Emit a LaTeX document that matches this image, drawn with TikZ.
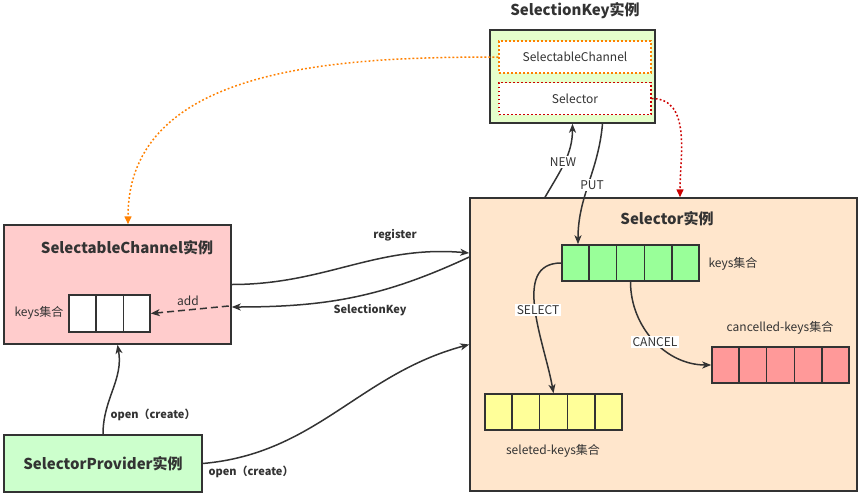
\documentclass[tikz,border=0pt]{standalone}
\usepackage{fontspec}
\setmainfont{Noto Sans CJK SC}
\usetikzlibrary{calc,arrows.meta}

\definecolor{linegray}{HTML}{333333}
\definecolor{textgray}{HTML}{333333}
\definecolor{keyfill}{HTML}{E6FFCC}
\definecolor{selfill}{HTML}{FFE6CC}
\definecolor{chfill}{HTML}{FFCCCC}
\definecolor{provfill}{HTML}{CCFFCC}
\definecolor{greencell}{HTML}{99FF99}
\definecolor{redcell}{HTML}{FF9999}
\definecolor{yellowcell}{HTML}{FFFF99}
\definecolor{orangeline}{HTML}{FF8000}
\definecolor{redline}{HTML}{CC0000}

\begin{document}
\begin{tikzpicture}[x=1pt, y=-1pt, text=textgray, % 1px = 1pt, y軸は下向き
  box/.style={draw=linegray, line width=1.5pt, inner sep=0pt},
  dots/.style={line width=1.5pt, dash pattern=on 1.8pt off 2.2pt},
  inbox/.style={dots, fill=white, inner sep=0pt, minimum width=152pt, minimum height=32pt, font=\fontsize{12}{14}\selectfont},
  arr/.style={box, minimum width=137pt, minimum height=36pt},
  title/.style={font=\bfseries\fontsize{15}{18}\selectfont},
  lab/.style={font=\fontsize{12}{14}\selectfont},
  blab/.style={font=\bfseries\fontsize{11}{13}\selectfont},
  wlab/.style={lab, fill=white, inner sep=1.5pt},
  myarrow/.style={draw=linegray, line width=1.5pt, -{Stealth[length=9pt, width=7pt, inset=2.5pt]}}]

  \useasboundingbox (0,0) rectangle (860,496); % 画像の大きさ

  % 箱
  \node[box, fill=keyfill, minimum width=165pt, minimum height=93pt] (skey) at (572.5,76.5) {}; % SelectionKey
  \node[title] (skeytitle) at (575,11) {SelectionKey实例};
  \node[inbox, draw=orangeline] (skch) at (575,57) {SelectableChannel};
  \node[inbox, draw=redline] (sksel) at (575,98.5) {Selector};

  \node[box, fill=selfill, minimum width=387pt, minimum height=293pt] (selbox) at (663.5,344.5) {}; % Selector
  \node[title] (seltitle) at (667,219) {Selector实例};

  \node[box, fill=chfill, minimum width=227pt, minimum height=119pt] (chbox) at (117.5,284.5) {}; % SelectableChannel
  \node[title] (chtitle) at (127,248) {SelectableChannel实例};

  \node[box, fill=provfill, minimum width=198pt, minimum height=57pt, title] (prov) at (103,463.5) {SelectorProvider实例}; % SelectorProvider

  % 集合
  \node[arr, fill=greencell] (keys) at (630.5,263) {};
  \node[arr, fill=redcell] (cancelled) at (780.5,365) {};
  \node[arr, fill=yellowcell] (selected) at (553.5,412) {};
  \node[arr, fill=white, minimum width=81pt, minimum height=37pt] (chkeys) at (109.5,313.5) {};
  \foreach \a/\n/\m in {keys/5/4, cancelled/5/4, selected/5/4, chkeys/3/2} % 仕切り線
    \foreach \i in {1,...,\m}
      \draw[linegray, line width=1.5pt] ($(\a.north west)!\i/\n!(\a.north east)$) -- ($(\a.south west)!\i/\n!(\a.south east)$);

  \node[lab, anchor=west] (keyslab) at (705,264) {keys集合};
  \node[lab] (cancelledlab) at (780,328) {cancelled-keys集合};
  \node[lab] (selectedlab) at (553,451) {seleted-keys集合};
  \node[lab, anchor=east] (chkeyslab) at (67,313) {keys集合};

  % 点線の矢印
  \draw[orangeline, dots, -{Triangle[length=8pt, width=7pt]}] (skch.west) to[out=180, in=90] ([xshift=10.5pt]chbox.north);
  \draw[redline, dots, -{Triangle[length=8pt, width=7pt]}] (sksel.east) to[out=0, in=90] ([xshift=16.5pt]selbox.north);

  % 矢印
  \draw[myarrow] ([xshift=-118.5pt]selbox.north) to[out=60, in=-90] (skey.south); % NEW
  \draw[myarrow] ([xshift=30pt]skey.south) to[out=-95, in=90] ([xshift=-52.5pt]keys.north); % PUT
  \draw[myarrow] (chbox.east) to[out=0, in=175] ([yshift=91.5pt]selbox.west); % register
  \draw[myarrow] ([yshift=87.5pt]selbox.west) to[out=205, in=0] ([yshift=-22.5pt]chbox.east); % SelectionKey
  \coordinate (addstart) at ($(chbox.east)+(-3,21.5)$);
  \draw[myarrow, dash pattern=on 7pt off 4pt] (addstart) -- (chkeys.east); % add
  \draw[myarrow] (prov.north) to[out=90, in=-80] (chbox.south); % open
  \draw[myarrow] (prov.east) to[out=5, in=195] (selbox.west); % open
  \draw[myarrow] (keys.west) to[out=180, in=100] (selected.north); % SELECT
  \draw[myarrow] (keys.south) to[out=-90, in=180] (cancelled.west); % CANCEL

  % 矢印のラベル
  \node[wlab] (newlab) at (563,162) {NEW};
  \node[wlab] (putlab) at (592,185) {PUT};
  \node[wlab] (selectlab) at (538,310) {SELECT};
  \node[wlab] (cancellab) at (655,342) {CANCEL};
  \node[blab] (reglab) at (395,235) {register};
  \node[blab] (sklab) at (370,310) {SelectionKey};
  \node[lab] (addlab) at (188,301) {add};
  \node[blab, anchor=west] (open1lab) at (107,415) {open（create）};
  \node[blab, anchor=west] (open2lab) at (205,472) {open（create）};
\end{tikzpicture}
\end{document}
